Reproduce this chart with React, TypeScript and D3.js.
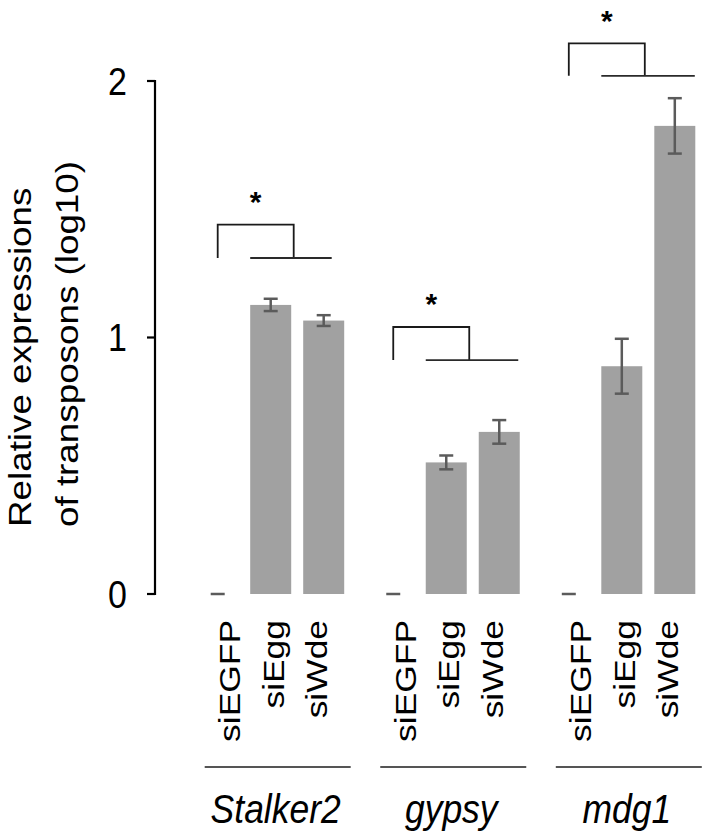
import React from "react";
import * as d3 from "d3";

const groups = ["Stalker2", "gypsy", "mdg1"];
const conditions = ["siEGFP", "siEgg", "siWde"];
const meanStalker2 = [0, 1.127, 1.066];
const errStalker2 = [0, 0.024, 0.021];
const meanGypsy = [0, 0.513, 0.632];
const errGypsy = [0, 0.027, 0.046];
const meanMdg1 = [0, 0.888, 1.825];
const errMdg1 = [0, 0.107, 0.108];
const yTicks = [0, 1, 2];
const yTitleLines = ["Relative expressions", "of transposons (log10)"];
// significance brackets: value of top and bottom horizontal line
const bracketTop = [1.44, 1.041, 2.147];
const bracketBottom = [1.31, 0.912, 2.02];
const bracketLabel = ["*", "*", "*"];

const means = [meanStalker2, meanGypsy, meanMdg1];
const errs = [errStalker2, errGypsy, errMdg1];

const W = 709;
const H = 834;
const FONT = "'Liberation Sans', Arial, Helvetica, sans-serif";
const S = 1.15; // vertical text stretch

export default function App() {
  const y = d3.scaleLinear().domain([0, 2]).range([594, 81]);
  const gx = d3.scalePoint<string>().domain(groups).range([270.7, 621.8]);
  const ix = d3.scalePoint<string>().domain(conditions).range([-53, 53]);
  const lx = d3.scalePoint<string>().domain(conditions).range([-30.5, 56.5]);
  const bw = 41;
  const axisX = 155;
  const barColor = "#a1a1a1";
  const errColor = "#5b5b5b";

  const bottomEnd = [8, 19, 20];

  return (
    <svg
      width={W}
      height={H}
      style={{ position: "absolute", left: 0, top: 0, background: "#fff" }}
      fontFamily={FONT}
    >
      <rect x={0} y={0} width={W} height={H} fill="#fff" />
      {/* y axis */}
      <line x1={axisX} x2={axisX} y1={y(2) - 1} y2={y(0) + 1} stroke="#000" strokeWidth={2.2} />
      {yTicks.map((t) => (
        <g key={t}>
          <line x1={axisX - 8} x2={axisX} y1={y(t)} y2={y(t)} stroke="#000" strokeWidth={2.2} />
          <text
            transform={`translate(127,${y(t) + 0.358 * 34 * S}) scale(1,${S})`}
            textAnchor="end"
            fontSize={34}
            fill="#000"
          >
            {t}
          </text>
        </g>
      ))}
      {/* y title */}
      {yTitleLines.map((l, i) => (
        <text
          key={l}
          transform={`translate(${30.5 + i * 47.5},527) scale(1,${S}) rotate(-90)`}
          textAnchor="start"
          fontSize={32}
          fill="#000"
        >
          {l}
        </text>
      ))}
      {/* bars */}
      {groups.map((g, gi) =>
        conditions.map((c, ci) => {
          const cx = (gx(g) as number) + (ix(c) as number);
          const v = means[gi][ci];
          const e = errs[gi][ci];
          return (
            <g key={g + c}>
              {v > 0 && (
                <rect x={cx - bw / 2} y={y(v)} width={bw} height={y(0) - y(v)} fill={barColor} />
              )}
              {e > 0 && (
                <line x1={cx} x2={cx} y1={y(v + e)} y2={y(v - e)} stroke={errColor} strokeWidth={2.5} />
              )}
              <line x1={cx - 7} x2={cx + 7} y1={y(v + e)} y2={y(v + e)} stroke={errColor} strokeWidth={2.5} />
              {e > 0 && (
                <line x1={cx - 7} x2={cx + 7} y1={y(v - e)} y2={y(v - e)} stroke={errColor} strokeWidth={2.5} />
              )}
            </g>
          );
        })
      )}
      {/* brackets */}
      {groups.map((g, gi) => {
        const xl = (gx(g) as number) + (ix(conditions[0]) as number);
        const xe = (gx(g) as number) + (ix(conditions[1]) as number);
        const xw = (gx(g) as number) + (ix(conditions[2]) as number);
        const yt = y(bracketTop[gi]);
        const yb = y(bracketBottom[gi]);
        const xr = xe + 23;
        return (
          <g key={"b" + g}>
            <path
              d={`M${xl},${yb} V${yt} H${xr} V${yb}`}
              fill="none"
              stroke="#1a1a1a"
              strokeWidth={1.8}
            />
            <line x1={xe - bw / 2} x2={xw + bottomEnd[gi]} y1={yb} y2={yb} stroke="#2a2a2a" strokeWidth={1.8} />
            <text
              x={(xl + xr) / 2}
              y={yt - 12.7}
              textAnchor="middle"
              fontSize={30}
              fontWeight="bold"
              fill="#000"
            >
              {bracketLabel[gi]}
            </text>
          </g>
        );
      })}
      {/* x labels */}
      {groups.map((g) =>
        conditions.map((c) => (
          <text
            key={"l" + g + c}
            transform={`translate(${(gx(g) as number) + (lx(c) as number)},620) scale(1,1.2) rotate(-90)`}
            textAnchor="end"
            fontSize={29.5}
            fill="#000"
          >
            {c}
          </text>
        ))
      )}
      {/* group lines and labels */}
      {groups.map((g) => (
        <g key={"g" + g}>
          <line
            x1={(gx(g) as number) - 66}
            x2={(gx(g) as number) + 80}
            y1={767}
            y2={767}
            stroke="#555"
            strokeWidth={2}
          />
          <text
            transform={`translate(${(gx(g) as number) + 5},823) scale(1,${S})`}
            textAnchor="middle"
            fontSize={35.5}
            fontStyle="italic"
            fill="#000"
          >
            {g}
          </text>
        </g>
      ))}
    </svg>
  );
}
